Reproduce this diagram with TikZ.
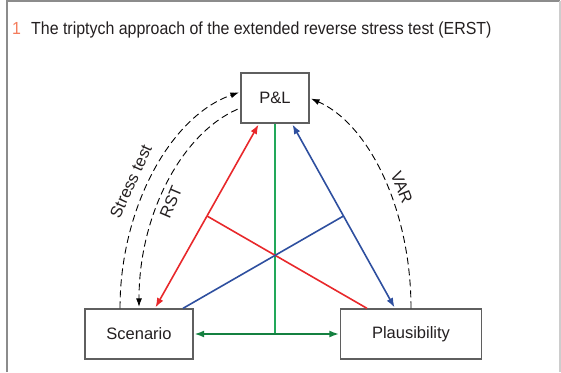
\documentclass[tikz,border=0pt]{standalone}
\usepackage{fontspec}
\setmainfont{Liberation Sans}
\newfontfamily\titlefont[FakeStretch=0.91]{Liberation Sans}
\usepackage{xcolor}
\usetikzlibrary{arrows.meta, positioning, calc}

\definecolor{rstred}{RGB}{232,40,43}
\definecolor{varblue}{RGB}{46,79,159}
\definecolor{linkgreen}{RGB}{34,168,90}
\definecolor{arrowgreen}{RGB}{20,128,64}
\definecolor{boxgray}{RGB}{95,95,95}
\definecolor{framegray}{RGB}{140,140,140}
\definecolor{lightframe}{RGB}{205,205,205}
\definecolor{numorange}{RGB}{244,124,92}
\definecolor{textdark}{RGB}{35,31,32}

\tikzset{
    box/.style={draw=boxgray, line width=1.3pt, minimum height=50pt, inner sep=0pt,
        font=\fontsize{16.5}{18}\selectfont, text=textdark},
    link/.style={line width=1.6pt},
    tip/.style={-{Latex[length=9.5pt,width=7pt]}, shorten >=1pt},
    dasharc/.style={dash pattern=on 7pt off 4pt, line width=0.9pt,
        -{Latex[length=8.5pt,width=6pt]}, shorten >=1.5pt},
    arclabel/.style={font=\fontsize{16.5}{18}\selectfont, text=textdark, sloped, inner sep=2pt}
}

\begin{document}
\begin{tikzpicture}[x=1pt, y=1pt]
    \useasboundingbox (0,0) rectangle (561,372);
    % frame
    \draw[framegray, line width=1.2pt] (7,0) -- (7,371) -- (560,371);
    \draw[lightframe, line width=1.2pt] (560,371) -- (560,0);

    % title
    \node[anchor=base west, inner sep=0pt, text=numorange, font=\titlefont\fontsize{17.5}{20}\selectfont] (num) at (12,337) {1};
    \node[anchor=base west, inner sep=0pt, text=textdark, font=\titlefont\fontsize{17.5}{20}\selectfont] (title) at (31,337) {The triptych approach of the extended reverse stress test (ERST)};

    % boxes
    \node[box, minimum width=68pt] (pl) at (275,274) {P\&L};
    \node[box, minimum width=108pt] (scen) at (139,38) {Scenario};
    \node[box, minimum width=141pt] (plaus) at (411,38) {Plausibility};

    % green
    \coordinate (gj) at (pl.south |- scen.east);
    \draw[link, linkgreen] (pl.south) -- (gj);
    \draw[link, arrowgreen, tip] (gj) -- (scen.east);
    \draw[link, arrowgreen, tip] (gj) -- (plaus.west);

    % red
    \coordinate (rs) at ([xshift=16pt]scen.north);
    \coordinate (rp) at ([xshift=-16pt]pl.south);
    \coordinate (rmid) at ($(rs)!0.5!(rp)$);
    \draw[link, rstred, tip] (rmid) -- (rp);
    \draw[link, rstred, tip] (rmid) -- (rs);
    \draw[link, rstred] (rmid) -- ([xshift=-44pt]plaus.north);

    % blue
    \coordinate (bp) at ([xshift=17pt]pl.south);
    \coordinate (bq) at ([xshift=-16pt]plaus.north);
    \coordinate (bmid) at ($(bp)!0.5!(bq)$);
    \draw[link, varblue, tip] (bmid) -- (bp);
    \draw[link, varblue, tip] (bmid) -- (bq);
    \draw[link, varblue] (bmid) -- ([xshift=44pt]scen.north);

    % dashed arcs
    \draw[dasharc] ([xshift=-19pt]scen.north) to[out=90, in=199, out looseness=1.04, in looseness=0.76]
        node[arclabel, pos=0.43, above=8pt] (stlabel) {Stress test} ([yshift=6pt]pl.west);
    \draw[dasharc, shorten <=3pt] ([yshift=-10pt]pl.west) to[out=203.5, in=90, out looseness=0.73, in looseness=1.07]
        node[arclabel, pos=0.57, below=3pt] (rstlabel) {RST} (scen.north);
    \draw[dasharc] (plaus.north) to[out=90, in=-23.75, out looseness=1.08, in looseness=0.71]
        node[arclabel, pos=0.43, above=5pt] (varlabel) {VAR} (pl.east);
\end{tikzpicture}
\end{document}
